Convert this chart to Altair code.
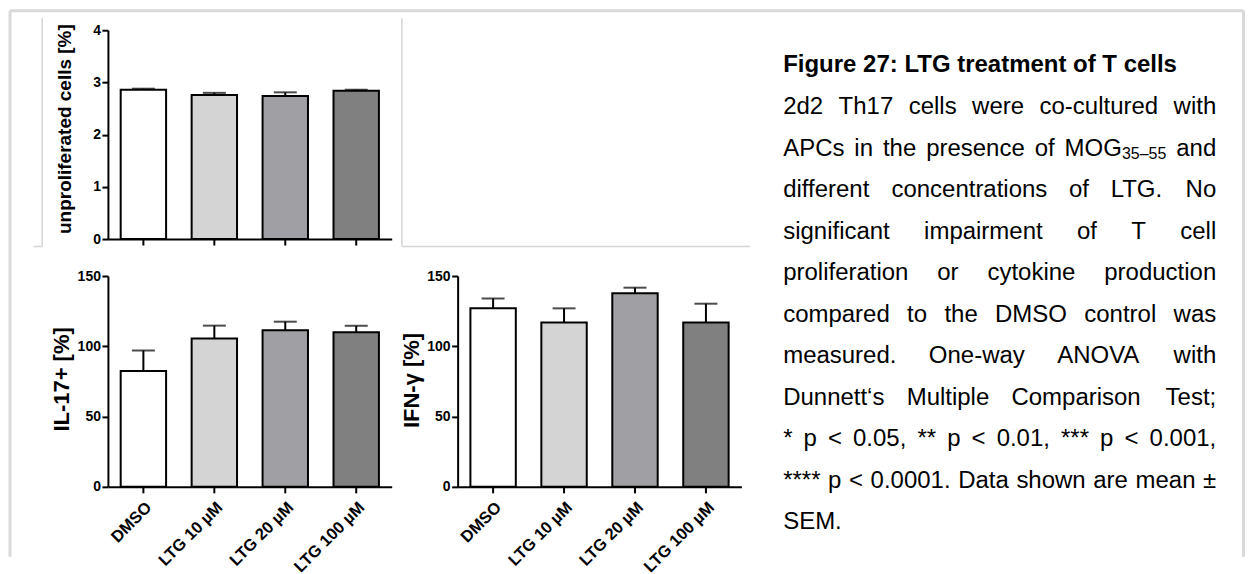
import altair as alt
import pandas as pd

# ---------------- data ----------------
categories = ["DMSO", "LTG 10 µM", "LTG 20 µM", "LTG 100 µM"]
unprolif_mean = [2.86, 2.76, 2.74, 2.84]
unprolif_upper = [2.88, 2.80, 2.81, 2.86]
il17_mean = [82.4, 105.5, 111.5, 110.0]
il17_upper = [97.0, 114.7, 117.5, 114.6]
ifng_mean = [127.0, 117.0, 137.7, 117.0]
ifng_upper = [134.0, 127.0, 141.7, 130.3]

unprolif_ticks = [0, 1, 2, 3, 4]
cyto_ticks = [0, 50, 100, 150]

bar_colors = ["#ffffff", "#d4d4d4", "#a0a0a4", "#808080"]

caption_title = "Figure 27: LTG treatment of T cells"
caption_lines = [
    "2d2 Th17 cells were co-cultured with",
    "APCs in the presence of MOG_35–55 and",
    "different concentrations of LTG. No",
    "significant impairment of T cell",
    "proliferation or cytokine production",
    "compared to the DMSO control was",
    "measured. One-way ANOVA with",
    "Dunnett‘s Multiple Comparison Test;",
    "* p < 0.05, ** p < 0.01, *** p < 0.001,",
    "**** p < 0.0001. Data shown are mean ±",
    "SEM.",
]

FONT = "Liberation Sans, Arial, Helvetica, sans-serif"
XLAB_SIZE = 16.5
YLAB_SIZE = 14

# ---------------- layout helpers ----------------
OX1, OY1 = 107.5, 29.0  # page position of first panel's plot origin


def rel(px, py):
    return px - OX1, py - OY1


one = pd.DataFrame({"k": [0]})


def hline(x1, x2, y, color, w):
    a, b = rel(x1, y)
    c, _ = rel(x2, y)
    return alt.Chart(one).mark_rule(color=color, strokeWidth=w).encode(
        x=alt.value(a), x2=alt.value(c), y=alt.value(b))


def vline(x, y1, y2, color, w):
    a, b = rel(x, y1)
    _, d = rel(x, y2)
    return alt.Chart(one).mark_rule(color=color, strokeWidth=w).encode(
        x=alt.value(a), y=alt.value(b), y2=alt.value(d))


# Arial / Liberation Sans advance widths (1/1000 em)
_W = {' ': 278, '*': 389, ',': 278, '-': 333, '.': 278, ';': 278, '<': 584,
      '±': 549, '‘': 222, '–': 556, ':': 278}
for ch in "0123456789":
    _W[ch] = 556
_W.update(dict(zip("ABCDEFGHIJKLMNOPQRSTUVWXYZ",
                   [667, 667, 722, 722, 667, 611, 778, 722, 278, 500, 667, 556, 833,
                    722, 778, 667, 778, 722, 667, 611, 722, 667, 944, 667, 667, 611])))
_W.update(dict(zip("abcdefghijklmnopqrstuvwxyz",
                   [556, 556, 500, 556, 556, 278, 556, 556, 222, 222, 500, 222, 833,
                    556, 556, 556, 556, 333, 500, 278, 556, 500, 722, 500, 500, 500])))


def tw(s, size):
    return sum(_W.get(c, 556) for c in s) * size / 1000.0


def word_mark(text, px, py, size, weight="normal", align="left"):
    a, b = rel(px, py)
    return alt.Chart(one).mark_text(
        text=text, font=FONT, fontSize=size, fontWeight=weight, align=align,
        baseline="alphabetic", color="black").encode(x=alt.value(a), y=alt.value(b))


LEFT, RIGHT = 783.3, 1216.7
BASE0, LSTEP = 113.3, 41.5
SIZE, SUBSIZE = 24, 16

text_layers = [word_mark(caption_title, LEFT, 70.8, SIZE, "bold")]
for i, line in enumerate(caption_lines):
    y = BASE0 + i * LSTEP
    items = []
    for w in line.split(" "):
        if "_" in w:
            main, sub = w.split("_")
            items.append((main, sub, tw(main, SIZE) + tw(sub, SUBSIZE)))
        else:
            items.append((w, None, tw(w, SIZE)))
    justify = i < len(caption_lines) - 1 and len(items) > 1
    if justify:
        gap = (RIGHT - LEFT - sum(it[2] for it in items)) / (len(items) - 1)
    else:
        gap = tw(" ", SIZE)
    x = LEFT
    for j, (main, sub, wd) in enumerate(items):
        last = justify and j == len(items) - 1
        if last and sub is None:
            text_layers.append(word_mark(main, RIGHT, y, SIZE, align="right"))
        else:
            text_layers.append(word_mark(main, x, y, SIZE))
            if sub:
                text_layers.append(word_mark(sub, x + tw(main, SIZE), y + 3.3, SUBSIZE))
        x += wd + gap

FRAME = "#d9d9d9"
INNER = "#d4d4d4"
decor_layers = [
    vline(9.5, 9.5, 556, FRAME, 3),
    hline(9.5, 1244, 9.5, FRAME, 3),
    vline(1244, 9.5, 556, FRAME, 3),
    vline(41.7, 17, 245.5, INNER, 1.5),
    vline(401.7, 17, 245.5, INNER, 1.5),
    hline(33, 41.7, 245.5, INNER, 1.5),
    hline(401.7, 750, 245.5, INNER, 1.5),
]


# ---------------- panels ----------------
def panel(mean, upper, ymax, yticks, ytitle, show_labels, tx, ty, tfs):
    df = pd.DataFrame({"cat": categories, "mean": mean, "upper": upper})
    xenc = alt.X("cat:N", sort=categories,
                 scale=alt.Scale(paddingInner=0.36, paddingOuter=0.18),
                 axis=alt.Axis(title="", labels=show_labels, labelAngle=-45,
                               labelAlign="right", labelBaseline="top",
                               labelFontSize=XLAB_SIZE, labelPadding=6,
                               labelFont=FONT, labelFontWeight="bold", labelColor="black",
                               domainColor="black", domainWidth=2,
                               tickColor="black", tickWidth=2, tickSize=6, grid=False))
    yaxis = alt.Axis(values=yticks, title=ytitle, titleX=tx, titleY=ty, titleAngle=270,
                     titleAlign="center", titleBaseline="alphabetic", titleFontSize=tfs,
                     titleFont=FONT, titleFontWeight="bold", titleColor="black",
                     labelFontSize=YLAB_SIZE, labelPadding=1.5,
                     labelFont=FONT, labelFontWeight="bold", labelColor="black",
                     domainColor="black", domainWidth=2,
                     tickColor="black", tickWidth=2, tickSize=6, grid=False)
    yscale = alt.Scale(domain=[0, ymax], nice=False)
    base = alt.Chart(df)
    bars = base.mark_bar(stroke="black", strokeWidth=2).encode(
        x=xenc,
        y=alt.Y("mean:Q", scale=yscale, axis=yaxis),
        fill=alt.Fill("cat:N", sort=categories,
                      scale=alt.Scale(domain=categories, range=bar_colors), legend=None),
    )
    err = base.mark_rule(color="black", strokeWidth=2).encode(
        x=xenc, y=alt.Y("mean:Q", scale=yscale, axis=yaxis), y2="upper:Q")
    cap = base.mark_tick(color="black", thickness=2, size=23, orient="horizontal").encode(
        x=xenc, y=alt.Y("upper:Q", scale=yscale, axis=yaxis))
    return [bars, err, cap]


p1 = alt.layer(
    *panel(unprolif_mean, unprolif_upper, 4, unprolif_ticks, "unproliferated cells [%]",
           False, -37, 98.5, 19),
    *decor_layers, *text_layers,
).properties(width=284, height=209)

p2 = alt.layer(*panel(il17_mean, il17_upper, 150, cyto_ticks, "IL-17+ [%]",
                      True, -39.2, 103, 22)).properties(width=284, height=211)
p3 = alt.layer(*panel(ifng_mean, ifng_upper, 150, cyto_ticks, "IFN-γ [%]",
                      True, -39, 104, 22)).properties(width=284, height=211)

row2 = alt.hconcat(p2, p3, spacing=66, bounds="flush")

chart = alt.vconcat(p1, row2, spacing=37, bounds="flush").properties(
    padding={"left": 0, "top": 0, "right": 0, "bottom": 0},
    background="white",
).configure_axis(
    domainColor="black", domainWidth=2, tickColor="black", tickWidth=2, tickSize=6,
    labelColor="black", labelFont=FONT, labelFontWeight="bold",
    titleFont=FONT, titleFontWeight="bold", titleColor="black", grid=False,
).configure_axisX(labelFontSize=XLAB_SIZE).configure_axisY(labelFontSize=YLAB_SIZE
).configure_view(stroke="transparent")

chart.save("out.html", embed_options={"renderer": "svg", "actions": False})
